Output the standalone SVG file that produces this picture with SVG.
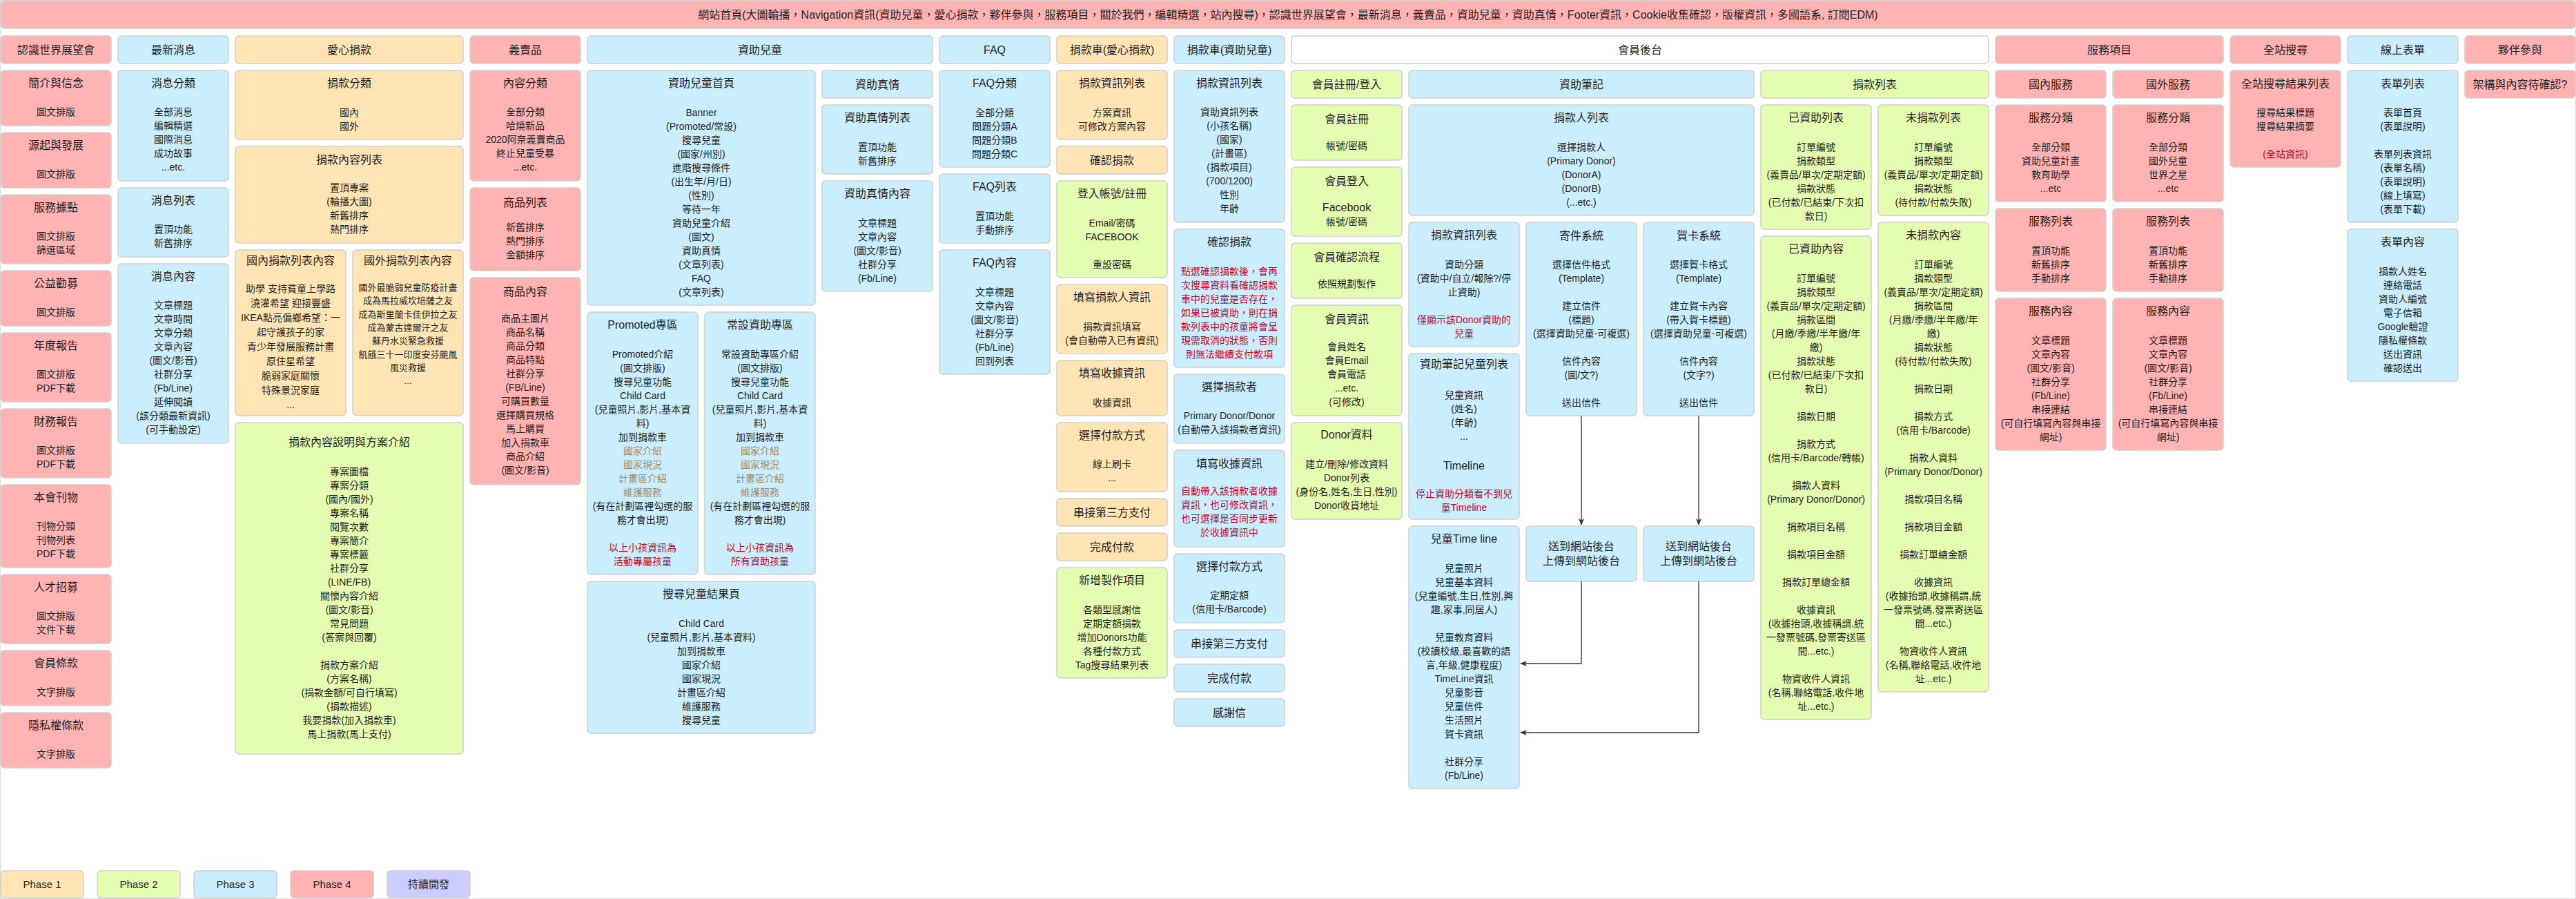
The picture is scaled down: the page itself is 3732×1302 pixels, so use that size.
<svg xmlns="http://www.w3.org/2000/svg" width="3732" height="1302" viewBox="0 0 3732 1302">
<defs>
<style>
rect{stroke:#cfcfcf;stroke-width:1.5}
.p1{fill:#ffe5b3}.p2{fill:#e5fdb1}.p3{fill:#cbeeff}.p4{fill:#ffb3b3}.p5{fill:#ccccff}.w{fill:#ffffff}
text{font-family:"Liberation Sans","Noto Sans CJK TC",sans-serif;fill:#1f1f1f;text-anchor:middle}
.t{font-size:16px}.b{font-size:14px}.s{font-size:13px}.r{fill:#d8001c}.br{fill:#a88a62}.f16{font-size:16px}
.lg{font-size:15px}
.c{fill:none;stroke:#333;stroke-width:1.3}
</style>
<marker id="arr" markerWidth="10" markerHeight="8" refX="9" refY="4" orient="auto" markerUnits="userSpaceOnUse"><path d="M0,0 L10,4 L0,8 L2.5,4 Z" fill="#333"/></marker>
</defs>
<rect width="3732" height="1302" fill="#ffffff" stroke="none"/>

<g id="n-home"><rect class="p4" x="1" y="1" width="3730" height="40" rx="5"/><text class="t" x="1866" y="27">網站首頁(大圖輪播，Navigation資訊(資助兒童，愛心捐款，夥伴參與，服務項目，關於我們，編輯精選，站內搜尋)，認識世界展望會，最新消息，義賣品，資助兒童，資助真情，Footer資訊，Cookie收集確認，版權資訊，多國語系, 訂閱EDM)</text></g>

<!-- Column 0 -->
<g id="n-about"><rect class="p4" x="1" y="52" width="160" height="40" rx="5"/><text class="t" x="81" y="78">認識世界展望會</text></g>
<g id="n-intro"><rect class="p4" x="1" y="102" width="160" height="80" rx="5"/><text class="t" x="81" y="126">簡介與信念</text><text class="b" x="81" y="167">圖文排版</text></g>
<g id="n-origin"><rect class="p4" x="1" y="192" width="160" height="80" rx="5"/><text class="t" x="81" y="216">源起與發展</text><text class="b" x="81" y="257">圖文排版</text></g>
<g id="n-points"><rect class="p4" x="1" y="282" width="160" height="100" rx="5"/><text class="t" x="81" y="306">服務據點</text><text class="b" x="81" y="347"><tspan x="81">圖文排版</tspan><tspan x="81" dy="20">篩選區域</tspan></text></g>
<g id="n-charity"><rect class="p4" x="1" y="392" width="160" height="80" rx="5"/><text class="t" x="81" y="416">公益勸募</text><text class="b" x="81" y="457">圖文排版</text></g>
<g id="n-annual"><rect class="p4" x="1" y="482" width="160" height="100" rx="5"/><text class="t" x="81" y="506">年度報告</text><text class="b" x="81" y="547"><tspan x="81">圖文排版</tspan><tspan x="81" dy="20">PDF下載</tspan></text></g>
<g id="n-finance"><rect class="p4" x="1" y="592" width="160" height="100" rx="5"/><text class="t" x="81" y="616">財務報告</text><text class="b" x="81" y="657"><tspan x="81">圖文排版</tspan><tspan x="81" dy="20">PDF下載</tspan></text></g>
<g id="n-pubs"><rect class="p4" x="1" y="702" width="160" height="120" rx="5"/><text class="t" x="81" y="726">本會刊物</text><text class="b" x="81" y="767"><tspan x="81">刊物分類</tspan><tspan x="81" dy="20">刊物列表</tspan><tspan x="81" dy="20">PDF下載</tspan></text></g>
<g id="n-jobs"><rect class="p4" x="1" y="832" width="160" height="100" rx="5"/><text class="t" x="81" y="856">人才招募</text><text class="b" x="81" y="897"><tspan x="81">圖文排版</tspan><tspan x="81" dy="20">文件下載</tspan></text></g>
<g id="n-terms"><rect class="p4" x="1" y="942" width="160" height="80" rx="5"/><text class="t" x="81" y="966">會員條款</text><text class="b" x="81" y="1007">文字排版</text></g>
<g id="n-privacy"><rect class="p4" x="1" y="1032" width="160" height="80" rx="5"/><text class="t" x="81" y="1056">隱私權條款</text><text class="b" x="81" y="1097">文字排版</text></g>

<!-- Column 1 -->
<g id="n-news"><rect class="p3" x="171" y="52" width="160" height="40" rx="5"/><text class="t" x="251" y="78">最新消息</text></g>
<g id="n-news-cat"><rect class="p3" x="171" y="102" width="160" height="160" rx="5"/><text class="t" x="251" y="126">消息分類</text><text class="b" x="251" y="167"><tspan x="251">全部消息</tspan><tspan x="251" dy="20">編輯精選</tspan><tspan x="251" dy="20">國際消息</tspan><tspan x="251" dy="20">成功故事</tspan><tspan x="251" dy="20">...etc.</tspan></text></g>
<g id="n-news-list"><rect class="p3" x="171" y="272" width="160" height="100" rx="5"/><text class="t" x="251" y="296">消息列表</text><text class="b" x="251" y="337"><tspan x="251">置頂功能</tspan><tspan x="251" dy="20">新舊排序</tspan></text></g>
<g id="n-news-content"><rect class="p3" x="171" y="382" width="160" height="260" rx="5"/><text class="t" x="251" y="406">消息內容</text><text class="b" x="251" y="447"><tspan x="251">文章標題</tspan><tspan x="251" dy="20">文章時間</tspan><tspan x="251" dy="20">文章分類</tspan><tspan x="251" dy="20">文章內容</tspan><tspan x="251" dy="20">(圖文/影音)</tspan><tspan x="251" dy="20">社群分享</tspan><tspan x="251" dy="20">(Fb/Line)</tspan><tspan x="251" dy="20">延伸閱讀</tspan><tspan x="251" dy="20">(該分類最新資訊)</tspan><tspan x="251" dy="20">(可手動設定)</tspan></text></g>

<!-- 愛心捐款 -->
<g id="n-donate"><rect class="p1" x="341" y="52" width="330" height="40" rx="5"/><text class="t" x="506" y="78">愛心捐款</text></g>
<g id="n-donate-cat"><rect class="p1" x="341" y="102" width="330" height="100" rx="5"/><text class="t" x="506" y="126">捐款分類</text><text class="b" x="506" y="168"><tspan x="506">國內</tspan><tspan x="506" dy="20">國外</tspan></text></g>
<g id="n-donate-list"><rect class="p1" x="341" y="212" width="330" height="140" rx="5"/><text class="t" x="506" y="237">捐款內容列表</text><text class="b" x="506" y="277"><tspan x="506">置頂專案</tspan><tspan x="506" dy="20">(輪播大圖)</tspan><tspan x="506" dy="20">新舊排序</tspan><tspan x="506" dy="20">熱門排序</tspan></text></g>
<g id="n-dom-list"><rect class="p1" x="341" y="362" width="160" height="240" rx="5"/><text class="t" x="421" y="383">國內捐款列表內容</text><text class="b" x="421" y="423"><tspan x="421">助學 支持貧童上學路</tspan><tspan x="421" dy="21">澆灌希望 迎接豐盛</tspan><tspan x="421" dy="21">IKEA點亮偏鄉希望：一</tspan><tspan x="421" dy="21">起守護孩子的家</tspan><tspan x="421" dy="21">青少年發展服務計畫</tspan><tspan x="421" dy="21">原住星希望</tspan><tspan x="421" dy="21">脆弱家庭關懷</tspan><tspan x="421" dy="21">特殊景況家庭</tspan><tspan x="421" dy="21">...</tspan></text></g>
<g id="n-intl-list"><rect class="p1" x="511" y="362" width="160" height="240" rx="5"/><text class="t" x="591" y="383">國外捐款列表內容</text><text class="s" x="591" y="421"><tspan x="591">國外最脆弱兒童防疫計畫</tspan><tspan x="591" dy="19.3">成為馬拉威坎培薩之友</tspan><tspan x="591" dy="19.3">成為斯里蘭卡佳伊拉之友</tspan><tspan x="591" dy="19.3">成為蒙古達爾汗之友</tspan><tspan x="591" dy="19.3">蘇丹水災緊急救援</tspan><tspan x="591" dy="19.3">飢餓三十一印度安芬颶風</tspan><tspan x="591" dy="19.3">風災救援</tspan><tspan x="591" dy="19.3">...</tspan></text></g>
<g id="n-donate-intro"><rect class="p2" x="341" y="612" width="330" height="480" rx="5"/><text class="t" x="506" y="646">捐款內容說明與方案介紹</text><text class="b" x="506" y="688"><tspan x="506">專案圖檔</tspan><tspan x="506" dy="20">專案分類</tspan><tspan x="506" dy="20">(國內/國外)</tspan><tspan x="506" dy="20">專案名稱</tspan><tspan x="506" dy="20">閱覽次數</tspan><tspan x="506" dy="20">專案簡介</tspan><tspan x="506" dy="20">專案標籤</tspan><tspan x="506" dy="20">社群分享</tspan><tspan x="506" dy="20">(LINE/FB)</tspan><tspan x="506" dy="20">關懷內容介紹</tspan><tspan x="506" dy="20">(圖文/影音)</tspan><tspan x="506" dy="20">常見問題</tspan><tspan x="506" dy="20">(答案與回覆)</tspan><tspan x="506" dy="40">捐款方案介紹</tspan><tspan x="506" dy="20">(方案名稱)</tspan><tspan x="506" dy="20">(捐款金額/可自行填寫)</tspan><tspan x="506" dy="20">(捐款描述)</tspan><tspan x="506" dy="20">我要捐款(加入捐款車)</tspan><tspan x="506" dy="20">馬上捐款(馬上支付)</tspan></text></g>

<!-- 義賣品 -->
<g id="n-shop"><rect class="p4" x="681" y="52" width="160" height="40" rx="5"/><text class="t" x="761" y="78">義賣品</text></g>
<g id="n-shop-cat"><rect class="p4" x="681" y="102" width="160" height="160" rx="5"/><text class="t" x="761" y="126">內容分類</text><text class="b" x="761" y="167"><tspan x="761">全部分類</tspan><tspan x="761" dy="20">哈燒新品</tspan><tspan x="761" dy="20">2020阿奈義賣商品</tspan><tspan x="761" dy="20">終止兒童受暴</tspan><tspan x="761" dy="20">...etc.</tspan></text></g>
<g id="n-shop-list"><rect class="p4" x="681" y="272" width="160" height="120" rx="5"/><text class="t" x="761" y="299">商品列表</text><text class="b" x="761" y="334"><tspan x="761">新舊排序</tspan><tspan x="761" dy="20">熱門排序</tspan><tspan x="761" dy="20">金額排序</tspan></text></g>
<g id="n-shop-item"><rect class="p4" x="681" y="402" width="160" height="300" rx="5"/><text class="t" x="761" y="428">商品內容</text><text class="b" x="761" y="466"><tspan x="761">商品主圖片</tspan><tspan x="761" dy="20">商品名稱</tspan><tspan x="761" dy="20">商品分類</tspan><tspan x="761" dy="20">商品特點</tspan><tspan x="761" dy="20">社群分享</tspan><tspan x="761" dy="20">(FB/Line)</tspan><tspan x="761" dy="20">可購買數量</tspan><tspan x="761" dy="20">選擇購買規格</tspan><tspan x="761" dy="20">馬上購買</tspan><tspan x="761" dy="20">加入捐款車</tspan><tspan x="761" dy="20">商品介紹</tspan><tspan x="761" dy="20">(圖文/影音)</tspan></text></g>

<!-- 資助兒童 -->
<g id="n-sponsor"><rect class="p3" x="851" y="52" width="500" height="40" rx="5"/><text class="t" x="1101" y="78">資助兒童</text></g>
<g id="n-sponsor-home"><rect class="p3" x="851" y="102" width="330" height="340" rx="5"/><text class="t" x="1016" y="126">資助兒童首頁</text><text class="b" x="1016" y="168"><tspan x="1016">Banner</tspan><tspan x="1016" dy="20">(Promoted/常設)</tspan><tspan x="1016" dy="20">搜尋兒童</tspan><tspan x="1016" dy="20">(國家/州別)</tspan><tspan x="1016" dy="20">進階搜尋條件</tspan><tspan x="1016" dy="20">(出生年/月/日)</tspan><tspan x="1016" dy="20">(性別)</tspan><tspan x="1016" dy="20">等待一年</tspan><tspan x="1016" dy="20">資助兒童介紹</tspan><tspan x="1016" dy="20">(圖文)</tspan><tspan x="1016" dy="20">資助真情</tspan><tspan x="1016" dy="20">(文章列表)</tspan><tspan x="1016" dy="20">FAQ</tspan><tspan x="1016" dy="20">(文章列表)</tspan></text></g>
<g id="n-promoted"><rect class="p3" x="851" y="452" width="160" height="380" rx="5"/><text class="t" x="931" y="476">Promoted專區</text><text class="b" x="931" y="518"><tspan x="931">Promoted介紹</tspan><tspan x="931" dy="20">(圖文排版)</tspan><tspan x="931" dy="20">搜尋兒童功能</tspan><tspan x="931" dy="20">Child Card</tspan><tspan x="931" dy="20">(兒童照片,影片,基本資</tspan><tspan x="931" dy="20">料)</tspan><tspan x="931" dy="20">加到捐款車</tspan><tspan x="931" dy="20" class="br">國家介紹</tspan><tspan x="931" dy="20" class="br">國家現況</tspan><tspan x="931" dy="20" class="br">計畫區介紹</tspan><tspan x="931" dy="20" class="br">維護服務</tspan><tspan x="931" dy="20">(有在計劃區裡勾選的服</tspan><tspan x="931" dy="20">務才會出現)</tspan><tspan x="931" dy="40" class="r">以上小孩資訊為</tspan><tspan x="931" dy="20" class="r">活動專屬孩童</tspan></text></g>
<g id="n-regular"><rect class="p3" x="1021" y="452" width="160" height="380" rx="5"/><text class="t" x="1101" y="476">常設資助專區</text><text class="b" x="1101" y="518"><tspan x="1101">常設資助專區介紹</tspan><tspan x="1101" dy="20">(圖文排版)</tspan><tspan x="1101" dy="20">搜尋兒童功能</tspan><tspan x="1101" dy="20">Child Card</tspan><tspan x="1101" dy="20">(兒童照片,影片,基本資</tspan><tspan x="1101" dy="20">料)</tspan><tspan x="1101" dy="20">加到捐款車</tspan><tspan x="1101" dy="20" class="br">國家介紹</tspan><tspan x="1101" dy="20" class="br">國家現況</tspan><tspan x="1101" dy="20" class="br">計畫區介紹</tspan><tspan x="1101" dy="20" class="br">維護服務</tspan><tspan x="1101" dy="20">(有在計劃區裡勾選的服</tspan><tspan x="1101" dy="20">務才會出現)</tspan><tspan x="1101" dy="40" class="r">以上小孩資訊為</tspan><tspan x="1101" dy="20" class="r">所有資助孩童</tspan></text></g>
<g id="n-search-child"><rect class="p3" x="851" y="842" width="330" height="220" rx="5"/><text class="t" x="1016" y="866">搜尋兒童結果頁</text><text class="b" x="1016" y="908"><tspan x="1016">Child Card</tspan><tspan x="1016" dy="20">(兒童照片,影片,基本資料)</tspan><tspan x="1016" dy="20">加到捐款車</tspan><tspan x="1016" dy="20">國家介紹</tspan><tspan x="1016" dy="20">國家現況</tspan><tspan x="1016" dy="20">計畫區介紹</tspan><tspan x="1016" dy="20">維護服務</tspan><tspan x="1016" dy="20">搜尋兒童</tspan></text></g>
<g id="n-story"><rect class="p3" x="1191" y="102" width="160" height="40" rx="5"/><text class="t" x="1271" y="128">資助真情</text></g>
<g id="n-story-list"><rect class="p3" x="1191" y="152" width="160" height="100" rx="5"/><text class="t" x="1271" y="176">資助真情列表</text><text class="b" x="1271" y="218"><tspan x="1271">置頂功能</tspan><tspan x="1271" dy="20">新舊排序</tspan></text></g>
<g id="n-story-content"><rect class="p3" x="1191" y="262" width="160" height="160" rx="5"/><text class="t" x="1271" y="286">資助真情內容</text><text class="b" x="1271" y="328"><tspan x="1271">文章標題</tspan><tspan x="1271" dy="20">文章內容</tspan><tspan x="1271" dy="20">(圖文/影音)</tspan><tspan x="1271" dy="20">社群分享</tspan><tspan x="1271" dy="20">(Fb/Line)</tspan></text></g>

<!-- FAQ -->
<g id="n-faq"><rect class="p3" x="1361" y="52" width="160" height="40" rx="5"/><text class="t" x="1441" y="78">FAQ</text></g>
<g id="n-faq-cat"><rect class="p3" x="1361" y="102" width="160" height="140" rx="5"/><text class="t" x="1441" y="126">FAQ分類</text><text class="b" x="1441" y="168"><tspan x="1441">全部分類</tspan><tspan x="1441" dy="20">問題分類A</tspan><tspan x="1441" dy="20">問題分類B</tspan><tspan x="1441" dy="20">問題分類C</tspan></text></g>
<g id="n-faq-list"><rect class="p3" x="1361" y="252" width="160" height="100" rx="5"/><text class="t" x="1441" y="276">FAQ列表</text><text class="b" x="1441" y="318"><tspan x="1441">置頂功能</tspan><tspan x="1441" dy="20">手動排序</tspan></text></g>
<g id="n-faq-content"><rect class="p3" x="1361" y="362" width="160" height="180" rx="5"/><text class="t" x="1441" y="386">FAQ內容</text><text class="b" x="1441" y="428"><tspan x="1441">文章標題</tspan><tspan x="1441" dy="20">文章內容</tspan><tspan x="1441" dy="20">(圖文/影音)</tspan><tspan x="1441" dy="20">社群分享</tspan><tspan x="1441" dy="20">(Fb/Line)</tspan><tspan x="1441" dy="20">回到列表</tspan></text></g>

<!-- 捐款車(愛心捐款) -->
<g id="n-cart1"><rect class="p1" x="1531" y="52" width="160" height="40" rx="5"/><text class="t" x="1611" y="78">捐款車(愛心捐款)</text></g>
<g id="n-cart1-info"><rect class="p1" x="1531" y="102" width="160" height="100" rx="5"/><text class="t" x="1611" y="126">捐款資訊列表</text><text class="b" x="1611" y="168"><tspan x="1611">方案資訊</tspan><tspan x="1611" dy="20">可修改方案內容</tspan></text></g>
<g id="n-cart1-confirm"><rect class="p1" x="1531" y="212" width="160" height="40" rx="5"/><text class="t" x="1611" y="238">確認捐款</text></g>
<g id="n-cart1-login"><rect class="p2" x="1531" y="262" width="160" height="140" rx="5"/><text class="t" x="1611" y="286">登入帳號/註冊</text><text class="b" x="1611" y="328"><tspan x="1611">Email/密碼</tspan><tspan x="1611" dy="20">FACEBOOK</tspan><tspan x="1611" dy="40">重設密碼</tspan></text></g>
<g id="n-cart1-donor"><rect class="p1" x="1531" y="412" width="160" height="100" rx="5"/><text class="t" x="1611" y="436">填寫捐款人資訊</text><text class="b" x="1611" y="478"><tspan x="1611">捐款資訊填寫</tspan><tspan x="1611" dy="20">(會自動帶入已有資訊)</tspan></text></g>
<g id="n-cart1-receipt"><rect class="p1" x="1531" y="522" width="160" height="80" rx="5"/><text class="t" x="1611" y="546">填寫收據資訊</text><text class="b" x="1611" y="588">收據資訊</text></g>
<g id="n-cart1-pay"><rect class="p1" x="1531" y="612" width="160" height="100" rx="5"/><text class="t" x="1611" y="636">選擇付款方式</text><text class="b" x="1611" y="677"><tspan x="1611">線上刷卡</tspan><tspan x="1611" dy="20">...</tspan></text></g>
<g id="n-cart1-3rd"><rect class="p1" x="1531" y="722" width="160" height="40" rx="5"/><text class="t" x="1611" y="748">串接第三方支付</text></g>
<g id="n-cart1-done"><rect class="p1" x="1531" y="772" width="160" height="40" rx="5"/><text class="t" x="1611" y="798">完成付款</text></g>
<g id="n-cart1-new"><rect class="p2" x="1531" y="822" width="160" height="160" rx="5"/><text class="t" x="1611" y="846">新增製作項目</text><text class="b" x="1611" y="888"><tspan x="1611">各類型感謝信</tspan><tspan x="1611" dy="20">定期定額捐款</tspan><tspan x="1611" dy="20">增加Donors功能</tspan><tspan x="1611" dy="20">各種付款方式</tspan><tspan x="1611" dy="20">Tag搜尋結果列表</tspan></text></g>

<!-- 捐款車(資助兒童) -->
<g id="n-cart2"><rect class="p3" x="1701" y="52" width="160" height="40" rx="5"/><text class="t" x="1781" y="78">捐款車(資助兒童)</text></g>
<g id="n-cart2-info"><rect class="p3" x="1701" y="102" width="160" height="220" rx="5"/><text class="t" x="1781" y="126">捐款資訊列表</text><text class="b" x="1781" y="167"><tspan x="1781">資助資訊列表</tspan><tspan x="1781" dy="20">(小孩名稱)</tspan><tspan x="1781" dy="20">(國家)</tspan><tspan x="1781" dy="20">(計畫區)</tspan><tspan x="1781" dy="20">(捐款項目)</tspan><tspan x="1781" dy="20">(700/1200)</tspan><tspan x="1781" dy="20">性別</tspan><tspan x="1781" dy="20">年齡</tspan></text></g>
<g id="n-cart2-confirm"><rect class="p3" x="1701" y="332" width="160" height="200" rx="5"/><text class="t" x="1781" y="356">確認捐款</text><text class="b r" x="1781" y="398"><tspan x="1781">點選確認捐款後，會再</tspan><tspan x="1781" dy="20">次搜尋資料看確認捐款</tspan><tspan x="1781" dy="20">車中的兒童是否存在，</tspan><tspan x="1781" dy="20">如果已被資助，則在捐</tspan><tspan x="1781" dy="20">款列表中的孩童將會呈</tspan><tspan x="1781" dy="20">現需取消的狀態，否則</tspan><tspan x="1781" dy="20">則無法繼續支付款項</tspan></text></g>
<g id="n-cart2-donor"><rect class="p3" x="1701" y="542" width="160" height="100" rx="5"/><text class="t" x="1781" y="566">選擇捐款者</text><text class="b" x="1781" y="607"><tspan x="1781">Primary Donor/Donor</tspan><tspan x="1781" dy="20">(自動帶入該捐款者資訊)</tspan></text></g>
<g id="n-cart2-receipt"><rect class="p3" x="1701" y="652" width="160" height="140" rx="5"/><text class="t" x="1781" y="677">填寫收據資訊</text><text class="b r" x="1781" y="716"><tspan x="1781">自動帶入該捐款者收據</tspan><tspan x="1781" dy="20">資訊，也可修改資訊，</tspan><tspan x="1781" dy="20">也可選擇是否同步更新</tspan><tspan x="1781" dy="20">於收據資訊中</tspan></text></g>
<g id="n-cart2-pay"><rect class="p3" x="1701" y="802" width="160" height="100" rx="5"/><text class="t" x="1781" y="826">選擇付款方式</text><text class="b" x="1781" y="867"><tspan x="1781">定期定額</tspan><tspan x="1781" dy="20">(信用卡/Barcode)</tspan></text></g>
<g id="n-cart2-3rd"><rect class="p3" x="1701" y="912" width="160" height="40" rx="5"/><text class="t" x="1781" y="938">串接第三方支付</text></g>
<g id="n-cart2-done"><rect class="p3" x="1701" y="962" width="160" height="40" rx="5"/><text class="t" x="1781" y="988">完成付款</text></g>
<g id="n-cart2-thanks"><rect class="p3" x="1701" y="1012" width="160" height="40" rx="5"/><text class="t" x="1781" y="1038">感謝信</text></g>

<!-- 會員後台 -->
<g id="n-member"><rect class="w" x="1871" y="52" width="1010" height="40" rx="5"/><text class="t" x="2376" y="78">會員後台</text></g>
<g id="n-m-hdr"><rect class="p2" x="1871" y="102" width="160" height="40" rx="5"/><text class="t" x="1951" y="128">會員註冊/登入</text></g>
<g id="n-m-reg"><rect class="p2" x="1871" y="152" width="160" height="80" rx="5"/><text class="t" x="1951" y="178">會員註冊</text><text class="b" x="1951" y="216">帳號/密碼</text></g>
<g id="n-m-login"><rect class="p2" x="1871" y="242" width="160" height="100" rx="5"/><text class="t" x="1951" y="268">會員登入</text><text class="f16" x="1951" y="306">Facebook</text><text class="b" x="1951" y="326">帳號/密碼</text></g>
<g id="n-m-verify"><rect class="p2" x="1871" y="352" width="160" height="80" rx="5"/><text class="t" x="1951" y="378">會員確認流程</text><text class="b" x="1951" y="416">依照規劃製作</text></g>
<g id="n-m-info"><rect class="p2" x="1871" y="442" width="160" height="160" rx="5"/><text class="t" x="1951" y="468">會員資訊</text><text class="b" x="1951" y="507"><tspan x="1951">會員姓名</tspan><tspan x="1951" dy="20">會員Email</tspan><tspan x="1951" dy="20">會員電話</tspan><tspan x="1951" dy="20">...etc.</tspan><tspan x="1951" dy="20">(可修改)</tspan></text></g>
<g id="n-m-donor"><rect class="p2" x="1871" y="612" width="160" height="140" rx="5"/><text class="t" x="1951" y="635">Donor資料</text><text class="b" x="1951" y="677"><tspan x="1951">建立/刪除/修改資料</tspan><tspan x="1951" dy="20">Donor列表</tspan><tspan x="1951" dy="20">(身份名,姓名,生日,性別)</tspan><tspan x="1951" dy="20">Donor收貨地址</tspan></text></g>

<!-- 資助筆記 -->
<g id="n-note"><rect class="p3" x="2041" y="102" width="500" height="40" rx="5"/><text class="t" x="2291" y="128">資助筆記</text></g>
<g id="n-note-donors"><rect class="p3" x="2041" y="152" width="500" height="160" rx="5"/><text class="t" x="2291" y="176">捐款人列表</text><text class="b" x="2291" y="218"><tspan x="2291">選擇捐款人</tspan><tspan x="2291" dy="20">(Primary Donor)</tspan><tspan x="2291" dy="20">(DonorA)</tspan><tspan x="2291" dy="20">(DonorB)</tspan><tspan x="2291" dy="20">(...etc.)</tspan></text></g>
<g id="n-note-info"><rect class="p3" x="2041" y="322" width="160" height="180" rx="5"/><text class="t" x="2121" y="346">捐款資訊列表</text><text class="b" x="2121" y="388"><tspan x="2121">資助分類</tspan><tspan x="2121" dy="20">(資助中/自立/報除?/停</tspan><tspan x="2121" dy="20">止資助)</tspan><tspan x="2121" dy="40" class="r">僅顯示該Donor資助的</tspan><tspan x="2121" dy="20" class="r">兒童</tspan></text></g>
<g id="n-note-children"><rect class="p3" x="2041" y="512" width="160" height="240" rx="5"/><text class="t" x="2121" y="533">資助筆記兒童列表</text><text class="b" x="2121" y="577"><tspan x="2121">兒童資訊</tspan><tspan x="2121" dy="20">(姓名)</tspan><tspan x="2121" dy="20">(年齡)</tspan><tspan x="2121" dy="20">...</tspan></text><text class="f16" x="2121" y="680">Timeline</text><text class="b r" x="2121" y="720"><tspan x="2121">停止資助分類看不到兒</tspan><tspan x="2121" dy="20">童Timeline</tspan></text></g>
<g id="n-note-timeline"><rect class="p3" x="2041" y="762" width="160" height="380" rx="5"/><text class="t" x="2121" y="786">兒童Time line</text><text class="b" x="2121" y="828"><tspan x="2121">兒童照片</tspan><tspan x="2121" dy="20">兒童基本資料</tspan><tspan x="2121" dy="20">(兒童編號,生日,性別,興</tspan><tspan x="2121" dy="20">趣,家事,同居人)</tspan><tspan x="2121" dy="40">兒童教育資料</tspan><tspan x="2121" dy="20">(校讀校級,最喜歡的語</tspan><tspan x="2121" dy="20">言,年級,健康程度)</tspan><tspan x="2121" dy="20">TimeLine資訊</tspan><tspan x="2121" dy="20">兒童影音</tspan><tspan x="2121" dy="20">兒童信件</tspan><tspan x="2121" dy="20">生活照片</tspan><tspan x="2121" dy="20">賀卡資訊</tspan><tspan x="2121" dy="40">社群分享</tspan><tspan x="2121" dy="20">(Fb/Line)</tspan></text></g>
<g id="n-mail"><rect class="p3" x="2211" y="322" width="160" height="280" rx="5"/><text class="t" x="2291" y="347">寄件系統</text><text class="b" x="2291" y="388"><tspan x="2291">選擇信件格式</tspan><tspan x="2291" dy="20">(Template)</tspan><tspan x="2291" dy="40">建立信件</tspan><tspan x="2291" dy="20">(標題)</tspan><tspan x="2291" dy="20">(選擇資助兒童-可複選)</tspan><tspan x="2291" dy="40">信件內容</tspan><tspan x="2291" dy="20">(圖/文?)</tspan><tspan x="2291" dy="40">送出信件</tspan></text></g>
<g id="n-card"><rect class="p3" x="2381" y="322" width="160" height="280" rx="5"/><text class="t" x="2461" y="347">賀卡系統</text><text class="b" x="2461" y="388"><tspan x="2461">選擇賀卡格式</tspan><tspan x="2461" dy="20">(Template)</tspan><tspan x="2461" dy="40">建立賀卡內容</tspan><tspan x="2461" dy="20">(帶入賀卡標題)</tspan><tspan x="2461" dy="20">(選擇資助兒童-可複選)</tspan><tspan x="2461" dy="40">信件內容</tspan><tspan x="2461" dy="20">(文字?)</tspan><tspan x="2461" dy="40">送出信件</tspan></text></g>
<g id="n-mail-upload"><rect class="p3" x="2211" y="762" width="160" height="80" rx="5"/><text class="t" x="2291" y="797"><tspan x="2291">送到網站後台</tspan><tspan x="2291" dy="21">上傳到網站後台</tspan></text></g>
<g id="n-card-upload"><rect class="p3" x="2381" y="762" width="160" height="80" rx="5"/><text class="t" x="2461" y="797"><tspan x="2461">送到網站後台</tspan><tspan x="2461" dy="21">上傳到網站後台</tspan></text></g>

<!-- 捐款列表 -->
<g id="n-dlist"><rect class="p2" x="2551" y="102" width="330" height="40" rx="5"/><text class="t" x="2716" y="128">捐款列表</text></g>
<g id="n-paid-list"><rect class="p2" x="2551" y="152" width="160" height="180" rx="5"/><text class="t" x="2631" y="176">已資助列表</text><text class="b" x="2631" y="218"><tspan x="2631">訂單編號</tspan><tspan x="2631" dy="20">捐款類型</tspan><tspan x="2631" dy="20">(義賣品/單次/定期定額)</tspan><tspan x="2631" dy="20">捐款狀態</tspan><tspan x="2631" dy="20">(已付款/已結束/下次扣</tspan><tspan x="2631" dy="20">款日)</tspan></text></g>
<g id="n-unpaid-list"><rect class="p2" x="2721" y="152" width="160" height="160" rx="5"/><text class="t" x="2801" y="176">未捐款列表</text><text class="b" x="2801" y="218"><tspan x="2801">訂單編號</tspan><tspan x="2801" dy="20">捐款類型</tspan><tspan x="2801" dy="20">(義賣品/單次/定期定額)</tspan><tspan x="2801" dy="20">捐款狀態</tspan><tspan x="2801" dy="20">(待付款/付款失敗)</tspan></text></g>
<g id="n-paid-content"><rect class="p2" x="2551" y="342" width="160" height="700" rx="5"/><text class="t" x="2631" y="366">已資助內容</text><text class="b" x="2631" y="408"><tspan x="2631">訂單編號</tspan><tspan x="2631" dy="20">捐款類型</tspan><tspan x="2631" dy="20">(義賣品/單次/定期定額)</tspan><tspan x="2631" dy="20">捐款區間</tspan><tspan x="2631" dy="20">(月繳/季繳/半年繳/年</tspan><tspan x="2631" dy="20">繳)</tspan><tspan x="2631" dy="20">捐款狀態</tspan><tspan x="2631" dy="20">(已付款/已結束/下次扣</tspan><tspan x="2631" dy="20">款日)</tspan><tspan x="2631" dy="40">捐款日期</tspan><tspan x="2631" dy="40">捐款方式</tspan><tspan x="2631" dy="20">(信用卡/Barcode/轉帳)</tspan><tspan x="2631" dy="40">捐款人資料</tspan><tspan x="2631" dy="20">(Primary Donor/Donor)</tspan><tspan x="2631" dy="40">捐款項目名稱</tspan><tspan x="2631" dy="40">捐款項目金額</tspan><tspan x="2631" dy="40">捐款訂單總金額</tspan><tspan x="2631" dy="40">收據資訊</tspan><tspan x="2631" dy="20">(收據抬頭,收據稱謂,統</tspan><tspan x="2631" dy="20">一發票號碼,發票寄送區</tspan><tspan x="2631" dy="20">間...etc.)</tspan><tspan x="2631" dy="40">物資收件人資訊</tspan><tspan x="2631" dy="20">(名稱,聯絡電話,收件地</tspan><tspan x="2631" dy="20">址...etc.)</tspan></text></g>
<g id="n-unpaid-content"><rect class="p2" x="2721" y="322" width="160" height="680" rx="5"/><text class="t" x="2801" y="346">未捐款內容</text><text class="b" x="2801" y="388"><tspan x="2801">訂單編號</tspan><tspan x="2801" dy="20">捐款類型</tspan><tspan x="2801" dy="20">(義賣品/單次/定期定額)</tspan><tspan x="2801" dy="20">捐款區間</tspan><tspan x="2801" dy="20">(月繳/季繳/半年繳/年</tspan><tspan x="2801" dy="20">繳)</tspan><tspan x="2801" dy="20">捐款狀態</tspan><tspan x="2801" dy="20">(待付款/付款失敗)</tspan><tspan x="2801" dy="40">捐款日期</tspan><tspan x="2801" dy="40">捐款方式</tspan><tspan x="2801" dy="20">(信用卡/Barcode)</tspan><tspan x="2801" dy="40">捐款人資料</tspan><tspan x="2801" dy="20">(Primary Donor/Donor)</tspan><tspan x="2801" dy="40">捐款項目名稱</tspan><tspan x="2801" dy="40">捐款項目金額</tspan><tspan x="2801" dy="40">捐款訂單總金額</tspan><tspan x="2801" dy="40">收據資訊</tspan><tspan x="2801" dy="20">(收據抬頭,收據稱謂,統</tspan><tspan x="2801" dy="20">一發票號碼,發票寄送區</tspan><tspan x="2801" dy="20">間...etc.)</tspan><tspan x="2801" dy="40">物資收件人資訊</tspan><tspan x="2801" dy="20">(名稱,聯絡電話,收件地</tspan><tspan x="2801" dy="20">址...etc.)</tspan></text></g>

<!-- 服務項目 -->
<g id="n-svc"><rect class="p4" x="2891" y="52" width="330" height="40" rx="5"/><text class="t" x="3056" y="78">服務項目</text></g>
<g id="n-dsvc"><rect class="p4" x="2891" y="102" width="160" height="40" rx="5"/><text class="t" x="2971" y="128">國內服務</text></g>
<g id="n-dsvc-cat"><rect class="p4" x="2891" y="152" width="160" height="140" rx="5"/><text class="t" x="2971" y="176">服務分類</text><text class="b" x="2971" y="218"><tspan x="2971">全部分類</tspan><tspan x="2971" dy="20">資助兒童計畫</tspan><tspan x="2971" dy="20">教育助學</tspan><tspan x="2971" dy="20">...etc</tspan></text></g>
<g id="n-dsvc-list"><rect class="p4" x="2891" y="302" width="160" height="120" rx="5"/><text class="t" x="2971" y="326">服務列表</text><text class="b" x="2971" y="368"><tspan x="2971">置頂功能</tspan><tspan x="2971" dy="20">新舊排序</tspan><tspan x="2971" dy="20">手動排序</tspan></text></g>
<g id="n-dsvc-content"><rect class="p4" x="2891" y="432" width="160" height="220" rx="5"/><text class="t" x="2971" y="456">服務內容</text><text class="b" x="2971" y="498"><tspan x="2971">文章標題</tspan><tspan x="2971" dy="20">文章內容</tspan><tspan x="2971" dy="20">(圖文/影音)</tspan><tspan x="2971" dy="20">社群分享</tspan><tspan x="2971" dy="20">(Fb/Line)</tspan><tspan x="2971" dy="20">串接連結</tspan><tspan x="2971" dy="20">(可自行填寫內容與串接</tspan><tspan x="2971" dy="20">網址)</tspan></text></g>
<g id="n-isvc"><rect class="p4" x="3061" y="102" width="160" height="40" rx="5"/><text class="t" x="3141" y="128">國外服務</text></g>
<g id="n-isvc-cat"><rect class="p4" x="3061" y="152" width="160" height="140" rx="5"/><text class="t" x="3141" y="176">服務分類</text><text class="b" x="3141" y="218"><tspan x="3141">全部分類</tspan><tspan x="3141" dy="20">國外兒童</tspan><tspan x="3141" dy="20">世界之星</tspan><tspan x="3141" dy="20">...etc</tspan></text></g>
<g id="n-isvc-list"><rect class="p4" x="3061" y="302" width="160" height="120" rx="5"/><text class="t" x="3141" y="326">服務列表</text><text class="b" x="3141" y="368"><tspan x="3141">置頂功能</tspan><tspan x="3141" dy="20">新舊排序</tspan><tspan x="3141" dy="20">手動排序</tspan></text></g>
<g id="n-isvc-content"><rect class="p4" x="3061" y="432" width="160" height="220" rx="5"/><text class="t" x="3141" y="456">服務內容</text><text class="b" x="3141" y="498"><tspan x="3141">文章標題</tspan><tspan x="3141" dy="20">文章內容</tspan><tspan x="3141" dy="20">(圖文/影音)</tspan><tspan x="3141" dy="20">社群分享</tspan><tspan x="3141" dy="20">(Fb/Line)</tspan><tspan x="3141" dy="20">串接連結</tspan><tspan x="3141" dy="20">(可自行填寫內容與串接</tspan><tspan x="3141" dy="20">網址)</tspan></text></g>

<!-- 全站搜尋 -->
<g id="n-search"><rect class="p4" x="3231" y="52" width="160" height="40" rx="5"/><text class="t" x="3311" y="78">全站搜尋</text></g>
<g id="n-search-result"><rect class="p4" x="3231" y="102" width="160" height="140" rx="5"/><text class="t" x="3311" y="127">全站搜尋結果列表</text><text class="b" x="3311" y="168"><tspan x="3311">搜尋結果標題</tspan><tspan x="3311" dy="20">搜尋結果摘要</tspan><tspan x="3311" dy="40" class="r">(全站資訊)</tspan></text></g>

<!-- 線上表單 -->
<g id="n-form"><rect class="p3" x="3401" y="52" width="160" height="40" rx="5"/><text class="t" x="3481" y="78">線上表單</text></g>
<g id="n-form-list"><rect class="p3" x="3401" y="102" width="160" height="220" rx="5"/><text class="t" x="3481" y="127">表單列表</text><text class="b" x="3481" y="168"><tspan x="3481">表單首頁</tspan><tspan x="3481" dy="20">(表單說明)</tspan><tspan x="3481" dy="40">表單列表資訊</tspan><tspan x="3481" dy="20">(表單名稱)</tspan><tspan x="3481" dy="20">(表單說明)</tspan><tspan x="3481" dy="20">(線上填寫)</tspan><tspan x="3481" dy="20">(表單下載)</tspan></text></g>
<g id="n-form-content"><rect class="p3" x="3401" y="332" width="160" height="220" rx="5"/><text class="t" x="3481" y="356">表單內容</text><text class="b" x="3481" y="398"><tspan x="3481">捐款人姓名</tspan><tspan x="3481" dy="20">連絡電話</tspan><tspan x="3481" dy="20">資助人編號</tspan><tspan x="3481" dy="20">電子信箱</tspan><tspan x="3481" dy="20">Google驗證</tspan><tspan x="3481" dy="20">隱私權條款</tspan><tspan x="3481" dy="20">送出資訊</tspan><tspan x="3481" dy="20">確認送出</tspan></text></g>

<!-- 夥伴參與 -->
<g id="n-partner"><rect class="p4" x="3571" y="52" width="160" height="40" rx="5"/><text class="t" x="3651" y="78">夥伴參與</text></g>
<g id="n-partner-tbd"><rect class="p4" x="3571" y="102" width="160" height="40" rx="5"/><text class="t" x="3651" y="128">架構與內容待確認?</text></g>

<!-- connectors -->
<g id="connectors">
<path class="c" d="M2291,602 V760" marker-end="url(#arr)"/>
<path class="c" d="M2461,602 V760" marker-end="url(#arr)"/>
<path class="c" d="M2291,842 V961 H2203" marker-end="url(#arr)"/>
<path class="c" d="M2461,842 V1061 H2203" marker-end="url(#arr)"/>
</g>

<!-- legend -->
<g id="legend-1"><rect class="p1" x="1" y="1261" width="120" height="39" rx="5"/><text class="lg" x="61" y="1286">Phase 1</text></g>
<g id="legend-2"><rect class="p2" x="141" y="1261" width="120" height="39" rx="5"/><text class="lg" x="201" y="1286">Phase 2</text></g>
<g id="legend-3"><rect class="p3" x="281" y="1261" width="120" height="39" rx="5"/><text class="lg" x="341" y="1286">Phase 3</text></g>
<g id="legend-4"><rect class="p4" x="421" y="1261" width="120" height="39" rx="5"/><text class="lg" x="481" y="1286">Phase 4</text></g>
<g id="legend-5"><rect class="p5" x="561" y="1261" width="120" height="39" rx="5"/><text class="lg" x="621" y="1286">持續開發</text></g>
</svg>
